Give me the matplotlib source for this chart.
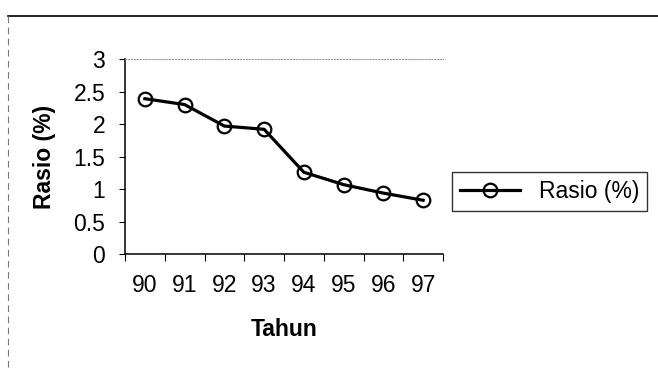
import matplotlib
matplotlib.use("Agg")
import matplotlib.pyplot as plt
from matplotlib.lines import Line2D

plt.rcParams['font.family'] = ['Liberation Sans', 'DejaVu Sans']

# Ratio per year
years = ["90", "91", "92", "93", "94", "95", "96", "97"]
rasio = [2.39, 2.30, 1.97, 1.92, 1.26, 1.07, 0.94, 0.83]
y_ticks = [0, 0.5, 1, 1.5, 2, 2.5, 3]
y_tick_labels = ["0", "0.5", "1", "1.5", "2", "2.5", "3"]

fs = 16.5
W, H = 658, 369
fig = plt.figure(figsize=(W / 100, H / 100), dpi=100)
fig.patch.set_facecolor("white")

ax = fig.add_axes([125 / W, 1 - 254.3 / H, 318 / W, 195.3 / H])
x = list(range(len(years)))
line, = ax.plot(x, rasio, color="black", lw=2.3, marker="o", markersize=9.8,
                markerfacecolor="none", markeredgecolor="black",
                markeredgewidth=1.6, label="Rasio (%)", clip_on=False)

ax.set_xlim(-0.5, len(years) - 0.5)
ax.set_ylim(0, 3)

ax.set_xticks(x)
ax.set_xticklabels(years, fontsize=fs)
ax.set_xticks([i - 0.5 for i in range(len(years) + 1)], minor=True)
ax.tick_params(axis="x", which="major", length=0, pad=14.5)
ax.tick_params(axis="x", which="minor", length=5, width=0.8, direction="out")

ax.set_yticks(y_ticks)
ax.set_yticklabels(y_tick_labels, fontsize=fs)
ax.tick_params(axis="y", length=4.3, width=0.8, direction="out", pad=10)

for side in ("left", "bottom"):
    ax.spines[side].set_linewidth(1.1)
    ax.spines[side].set_color("black")
ax.spines["right"].set_visible(False)
ax.spines["top"].set_linestyle(":")
ax.spines["top"].set_color("#999999")
ax.spines["top"].set_linewidth(0.8)

ax.set_xlabel("Tahun", fontsize=fs, fontweight="bold")
ax.xaxis.label.set_va("center")
ax.xaxis.set_label_coords(0.5, (H - 330 - (H - 254.3)) / 195.3)
ax.set_ylabel("Rasio (%)", fontsize=fs, fontweight="bold")
ax.yaxis.label.set_va("center")
ax.yaxis.set_label_coords((44 - 125) / 318, 0.5)

leg = fig.legend(handles=[line], loc="center left",
                 bbox_to_anchor=(452 / W, 1 - 191.5 / H),
                 fontsize=fs, frameon=True, fancybox=False,
                 handlelength=2.6, handletextpad=0.85, borderpad=0.35,
                 borderaxespad=0)
leg.get_frame().set_edgecolor("black")
leg.get_frame().set_linewidth(1.0)

# chart area border
fig.add_artist(Line2D([8 / W, 1], [1 - 16 / H, 1 - 16 / H],
                      transform=fig.transFigure, color="black", lw=1.2))
fig.add_artist(Line2D([8 / W, 8 / W], [1 - 16 / H, 0],
                      transform=fig.transFigure, color="#777777", lw=0.8,
                      linestyle=(0, (6, 4))))

fig.savefig("out.png", dpi=100, facecolor="white")
